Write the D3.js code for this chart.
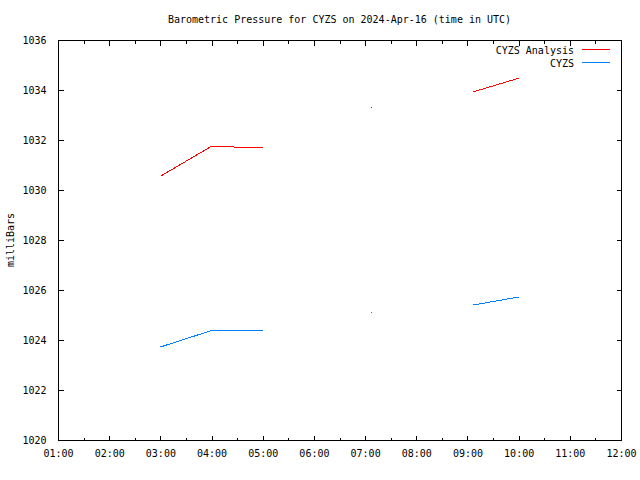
<html>
<head>
<script src="https://d3js.org/d3.v7.min.js"></script>
<style>
  body { margin: 0; background: #fff; }
  svg text { font: 10px "DejaVu Sans Mono", monospace; fill: #000; }
  .domain { display: none; }
  .tick line { stroke: #000; shape-rendering: crispEdges; }
</style>
</head>
<body>
<script>
// observation times (UTC) and pressures, null = missing
var times = ["03:00", "04:00", "05:00", "06:00", "07:07", "08:00", "09:07", "10:00"];
var analysis = [1030.55, 1031.75, 1031.68, null, 1033.31, null, 1033.93, 1034.47];
var observed = [1023.72, 1024.38, 1024.38, null, 1025.11, null, 1025.40, 1025.72];
var yTicks = [1020, 1022, 1024, 1026, 1028, 1030, 1032, 1034, 1036];
var seriesNames = ["CYZS Analysis", "CYZS"];
var seriesColors = ["#ff0000", "#0080ff"];

var width = 640, height = 480;
var plotL = 58, plotR = 621, plotT = 40, plotB = 440;

var parse = d3.utcParse("%Y-%m-%d %H:%M");
var day = "2024-04-16 ";
var x = d3.scaleUtc()
    .domain([parse(day + "01:00"), parse(day + "12:00")])
    .range([plotL, plotR]);
var y = d3.scaleLinear().domain([1020, 1036]).range([plotB, plotT]);

var svg = d3.select("body").append("svg")
    .attr("width", width)
    .attr("height", height);

// title
svg.append("text")
    .attr("x", (plotL + plotR) / 2)
    .attr("y", 23)
    .attr("text-anchor", "middle")
    .text("Barometric Pressure for CYZS on 2024-Apr-16 (time in UTC)");

// y label
svg.append("text")
    .attr("transform", "translate(14," + (plotT + plotB) / 2 + ") rotate(-90)")
    .attr("text-anchor", "middle")
    .text("milliBars");

var hours = d3.utcHour.range(parse(day + "01:00"), parse(day + "12:01"));
var halfHours = hours.slice(0, -1).map(function (d) { return d3.utcMinute.offset(d, 30); });
var fmt = d3.utcFormat("%H:%M");

// bottom axis (labels + major ticks inward)
svg.append("g")
    .attr("transform", "translate(0," + (plotB + 0.5) + ")")
    .call(d3.axisBottom(x).tickValues(hours).tickFormat(fmt).tickSize(-5).tickPadding(9));
svg.append("g")
    .attr("transform", "translate(0," + (plotB + 0.5) + ")")
    .call(d3.axisBottom(x).tickValues(halfHours).tickFormat("").tickSize(-3));
// top mirror
svg.append("g")
    .attr("transform", "translate(0," + (plotT + 0.5) + ")")
    .call(d3.axisTop(x).tickValues(hours).tickFormat("").tickSize(-5));
svg.append("g")
    .attr("transform", "translate(0," + (plotT + 0.5) + ")")
    .call(d3.axisTop(x).tickValues(halfHours).tickFormat("").tickSize(-3));

// left axis
svg.append("g")
    .attr("transform", "translate(" + (plotL + 0.5) + ",0)")
    .call(d3.axisLeft(y).tickValues(yTicks).tickFormat(d3.format("d")).tickSize(-5).tickPadding(12));
// right mirror
svg.append("g")
    .attr("transform", "translate(" + (plotR + 0.5) + ",0)")
    .call(d3.axisRight(y).tickValues(yTicks).tickFormat("").tickSize(-5));

// border
svg.append("rect")
    .attr("x", plotL + 0.5).attr("y", plotT + 0.5)
    .attr("width", plotR - plotL).attr("height", plotB - plotT)
    .attr("fill", "none").attr("stroke", "#000")
    .attr("shape-rendering", "crispEdges");

var dates = times.map(function (t) { return parse(day + t); });

[analysis, observed].forEach(function (vals, si) {
    var pts = vals.map(function (v, i) { return { t: dates[i], v: v }; });
    var line = d3.line()
        .defined(function (d) { return d.v !== null; })
        .x(function (d) { return x(d.t); })
        .y(function (d) { return y(d.v); });
    svg.append("path")
        .datum(pts)
        .attr("d", line)
        .attr("fill", "none")
        .attr("stroke", seriesColors[si])
        .attr("stroke-width", 1)
        .attr("shape-rendering", "crispEdges");
    // isolated readings show as single dots
    var lone = pts.filter(function (d, i) {
        return d.v !== null &&
            (i === 0 || pts[i - 1].v === null) &&
            (i === pts.length - 1 || pts[i + 1].v === null);
    });
    svg.selectAll(null).data(lone).enter().append("rect")
        .attr("x", function (d) { return Math.round(x(d.t)); })
        .attr("y", function (d) { return Math.round(y(d.v)); })
        .attr("width", 1).attr("height", 1)
        .attr("fill", seriesColors[si]);
});

// legend
var legend = svg.append("g");
seriesNames.forEach(function (name, i) {
    var ly = 49.5 + i * 13;
    legend.append("text")
        .attr("x", 574).attr("y", ly + 4)
        .attr("text-anchor", "end")
        .text(name);
    legend.append("line")
        .attr("x1", 582).attr("x2", 610)
        .attr("y1", ly).attr("y2", ly)
        .attr("stroke", seriesColors[i])
        .attr("shape-rendering", "crispEdges");
});
</script>
</body>
</html>
